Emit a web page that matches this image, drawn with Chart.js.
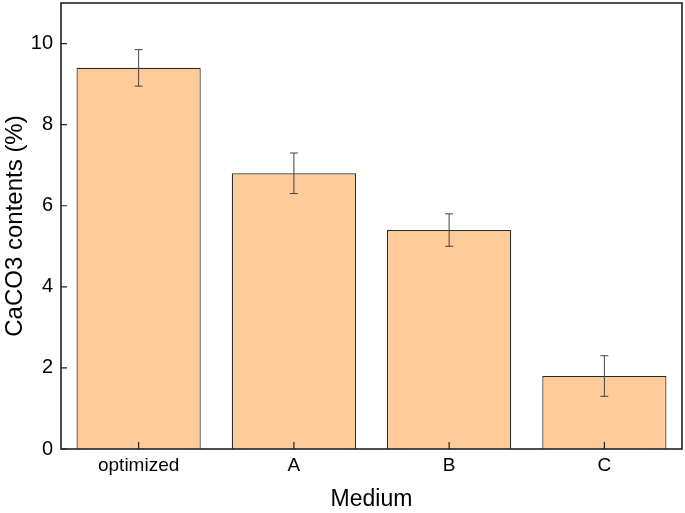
<html>
<head>
    <title>CaCO3 contents</title>
    <script src="https://cdn.jsdelivr.net/npm/chart.js"></script>
    <style>
        body { margin: 0; background: #fff; }
        #wrap { width: 685px; height: 513px; }
    </style>
</head>
<body>
<div id="wrap">
    <canvas id="caco3"></canvas>
</div>
<script>
    const media = ["optimized", "A", "B", "C"];
    const contents = [9.4, 6.8, 5.4, 1.8];
    const errors = [0.45, 0.5, 0.4, 0.5];
    const yTicks = [0, 2, 4, 6, 8, 10];

    // frame, inward ticks and error bars
    const extras = {
        id: "extras",
        afterDatasetsDraw(chart) {
            const ctx = chart.ctx;
            const x = chart.scales.x, y = chart.scales.y;
            const a = chart.chartArea;
            ctx.save();
            // error bars
            ctx.strokeStyle = "#444";
            ctx.lineWidth = 1;
            contents.forEach((v, i) => {
                const px = x.getPixelForValue(i);
                const top = y.getPixelForValue(v + errors[i]);
                const bot = y.getPixelForValue(v - errors[i]);
                ctx.beginPath();
                ctx.moveTo(px, top); ctx.lineTo(px, bot);
                ctx.moveTo(px - 4, top); ctx.lineTo(px + 4, top);
                ctx.moveTo(px - 4, bot); ctx.lineTo(px + 4, bot);
                ctx.stroke();
            });
            // ticks
            ctx.strokeStyle = "#222";
            ctx.lineWidth = 1.2;
            ctx.beginPath();
            yTicks.forEach(t => {
                const py = y.getPixelForValue(t);
                ctx.moveTo(a.left, py); ctx.lineTo(a.left + 6, py);
            });
            media.forEach((m, i) => {
                const px = x.getPixelForValue(i);
                ctx.moveTo(px, a.bottom); ctx.lineTo(px, a.bottom - 7);
            });
            ctx.stroke();
            // frame
            ctx.lineWidth = 1.6;
            ctx.strokeStyle = "#222";
            ctx.strokeRect(a.left, a.top, a.right - a.left, a.bottom - a.top);
            ctx.restore();
        }
    };

    new Chart(document.getElementById("caco3"), {
        type: "bar",
        data: {
            labels: media,
            datasets: [{
                data: contents,
                backgroundColor: "rgb(255, 204, 153)",
                borderColor: "#2a2a2a",
                borderWidth: 1.2,
                barPercentage: 0.8,
                categoryPercentage: 1.0
            }]
        },
        options: {
            responsive: true,
            maintainAspectRatio: false,
            animation: false,
            layout: { padding: { top: 3, right: 3, left: 0, bottom: 0 } },
            plugins: {
                legend: { display: false },
                tooltip: { enabled: false }
            },
            scales: {
                x: {
                    grid: { display: false, drawTicks: false, tickLength: 0 },
                    border: { display: false },
                    ticks: {
                        color: "#000",
                        padding: 5,
                        font: { family: "Liberation Sans", size: 19 }
                    },
                    title: {
                        display: true,
                        text: "Medium",
                        color: "#000",
                        padding: 0,
                        font: { family: "Liberation Sans", size: 23 }
                    },
                    afterFit(scale) {
                        scale.height = 64;
                        scale.paddingLeft = 0;
                        scale.paddingRight = 0;
                    }
                },
                y: {
                    min: 0,
                    max: 11,
                    afterBuildTicks(scale) {
                        scale.ticks = yTicks.map(v => ({ value: v }));
                    },
                    grid: { display: false, drawTicks: false, tickLength: 0 },
                    border: { display: false },
                    ticks: {
                        color: "#000",
                        padding: 8,
                        font: { family: "Liberation Sans", size: 20 }
                    },
                    title: {
                        display: true,
                        text: "CaCO3 contents (%)",
                        color: "#000",
                        padding: 1,
                        font: { family: "Liberation Sans", size: 24 }
                    },
                    afterFit(scale) {
                        scale.width = 61;
                        scale.paddingTop = 0;
                        scale.paddingBottom = 0;
                    }
                }
            }
        },
        plugins: [extras]
    });
</script>
</body>
</html>
